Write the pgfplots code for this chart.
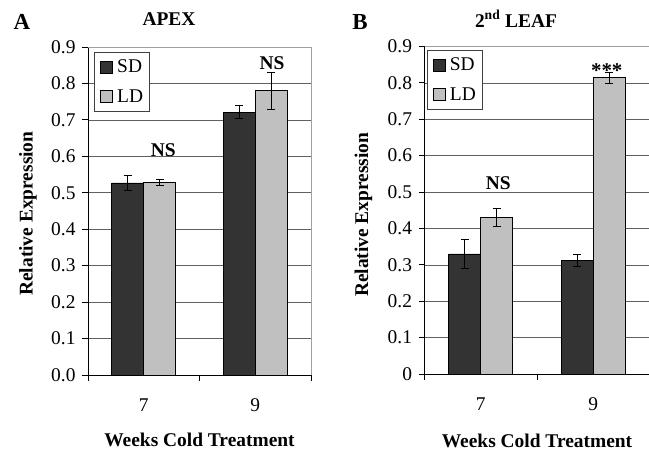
\documentclass[border=0pt]{standalone}
\usepackage{fontspec}
\setmainfont{Liberation Serif}
\usepackage{pgfplots}
\pgfplotsset{compat=1.18}
\definecolor{sdcol}{HTML}{333333}
\definecolor{ldcol}{HTML}{C0C0C0}
\definecolor{gridcol}{HTML}{606060}
\definecolor{bordercol}{HTML}{A0A0A0}
\newcommand{\lbl}{\fontsize{19.5}{21}\selectfont}
\pgfplotsset{
  panel/.style={
    scale only axis, anchor=south west,
    ybar=0pt, bar width=32bp,
    xmin=6, xmax=10, ymin=0, ymax=0.9,
    ytick={0,0.1,0.2,0.3,0.4,0.5,0.6,0.7,0.8,0.9},
    axis lines=left, axis line style={-, black, line width=0.8bp},
    tick align=outside, major tick length=6bp,
    tick style={black, line width=0.8bp},
    xtick={6,8,10}, xticklabels={},
    extra x ticks={7,9}, extra x tick labels={7,9},
    extra x tick style={major tick length=0pt, grid=none, xticklabel style={yshift=-20bp}},
    yticklabel style={xshift=-3bp},
    ymajorgrids, grid style={gridcol, line width=0.6bp},
    enlargelimits=false, clip=false,
    /pgf/number format/assume math mode=true,
    tick label style={font=\lbl},
    error bars/y dir=both, error bars/y explicit,
    error bars/error bar style={black, line width=0.8bp},
    error bars/error mark options={black, rotate=90, mark size=4bp, line width=0.8bp},
    legend style={draw=black!75, fill=white, font=\lbl, inner xsep=4bp, inner ysep=6bp,
      row sep=11bp, anchor=north west, cells={anchor=west}},
    legend image code/.code={\draw[#1, draw=black, line width=0.6bp] (2bp,-6bp) rectangle (14bp,6bp);
      \path[draw=none, fill=none] (0bp,0bp) rectangle (17bp,0.1bp);},
  },
  sdbar/.style={fill=sdcol, draw=black, line width=0.8bp},
  ldbar/.style={fill=ldcol, draw=black, line width=0.8bp},
}
\begin{document}
\begin{tikzpicture}
\path[use as bounding box] (0,0) rectangle (649bp,450bp);
% Panel A
\begin{axis}[panel, at={(88bp,75bp)}, width=223bp, height=328bp,
  yticklabel style={/pgf/number format/.cd, fixed, fixed zerofill, precision=1},
  xlabel={Weeks Cold Treatment}, ylabel={Relative Expression},
  every axis x label/.style={at={(axis description cs:0.5,-0.219)}, anchor=base, font=\lbl\bfseries},
  every axis y label/.style={at={(axis description cs:-0.269,0.492)}, anchor=center, rotate=90, font=\lbl\bfseries},
  legend style={at={(axis description cs:0.027,0.985)}}]
\addplot[sdbar] coordinates {(7,0.527) +- (0,0.020) (9,0.721) +- (0,0.018)};
\addplot[ldbar] coordinates {(7,0.528) +- (0,0.008) (9,0.780) +- (0,0.050)};
\legend{SD,LD}
\draw[bordercol, line width=0.8bp] (rel axis cs:0,1) -- (rel axis cs:1,1) -- (rel axis cs:1,0);
\node[font=\lbl\bfseries] at (axis cs:7.35,0.617) {NS};
\node[font=\lbl\bfseries] at (axis cs:9.30,0.856) {NS};
\end{axis}
% Panel B
\begin{axis}[panel, at={(424.5bp,76bp)}, width=225bp, height=327.5bp,
  yticklabel style={/pgf/number format/.cd, fixed},
  xlabel={Weeks Cold Treatment}, ylabel={Relative Expression},
  every axis x label/.style={at={(axis description cs:0.5,-0.223)}, anchor=base, font=\lbl\bfseries},
  every axis y label/.style={at={(axis description cs:-0.271,0.486)}, anchor=center, rotate=90, font=\lbl\bfseries},
  legend style={at={(axis description cs:0.01,0.99)}}]
\addplot[sdbar] coordinates {(7,0.330) +- (0,0.040) (9,0.313) +- (0,0.017)};
\addplot[ldbar] coordinates {(7,0.430) +- (0,0.024) (9,0.814) +- (0,0.015)};
\legend{SD,LD}
\draw[bordercol, line width=0.8bp] (rel axis cs:0,1) -- (rel axis cs:1,1) -- (rel axis cs:1,0);
\node[font=\lbl\bfseries] at (axis cs:7.31,0.525) {NS};
\node[font=\fontsize{21}{23}\selectfont\bfseries] at (axis cs:9.24,0.835) {***};
\end{axis}
% Titles
\node[font=\fontsize{23}{25}\selectfont\bfseries] at (22bp,428bp) {A};
\node[font=\lbl\bfseries] at (169bp,431bp) {APEX};
\node[font=\fontsize{23}{25}\selectfont\bfseries] at (360bp,428bp) {B};
\node[font=\lbl\bfseries] at (516bp,431bp) {2\textsuperscript{nd} LEAF};
\end{tikzpicture}
\end{document}
